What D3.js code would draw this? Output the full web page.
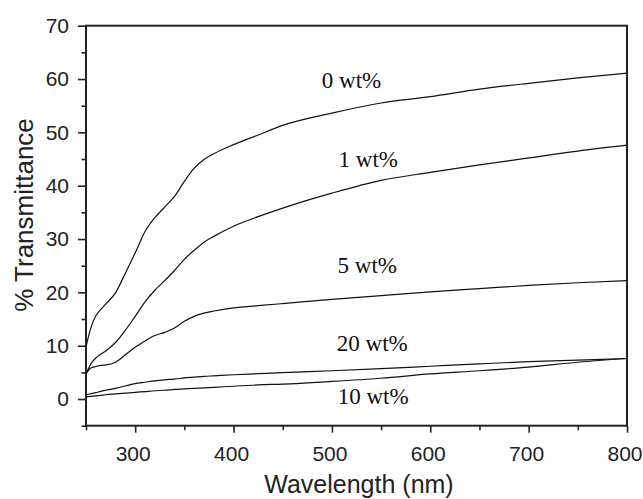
<!DOCTYPE html>
<html>
<head>
<meta charset="utf-8">
<script src="https://cdn.jsdelivr.net/npm/d3@7"></script>
<style>
  body { margin: 0; background: #fff; }
  svg { display: block; }
</style>
</head>
<body>
<svg id="chart" width="643" height="499"></svg>
<script>
// wavelength grid (nm) shared by all curves
const wavelength = [250, 255, 260, 265, 270, 280, 290, 300, 310, 320, 330, 340, 350, 360, 370, 380, 400, 425, 450, 500, 550, 600, 650, 700, 750, 800];

// % transmittance
const t0  = [9.8, 13.4, 15.6, 16.8, 17.8, 19.9, 23.6, 27.4, 31.4, 34.0, 36.0, 38.0, 40.8, 43.3, 44.9, 46.0, 47.7, 49.5, 51.3, 53.6, 55.5, 56.7, 58.1, 59.2, 60.2, 61.1];
const t1  = [4.7, 6.6, 7.7, 8.4, 9.0, 10.6, 12.9, 15.5, 18.2, 20.4, 22.2, 24.1, 26.2, 27.9, 29.4, 30.5, 32.4, 34.2, 35.8, 38.6, 41.0, 42.5, 43.9, 45.2, 46.5, 47.6];
const t5  = [4.7, 5.8, 6.1, 6.3, 6.4, 6.9, 8.3, 9.7, 10.9, 11.9, 12.5, 13.3, 14.6, 15.5, 16.1, 16.5, 17.1, 17.5, 17.9, 18.7, 19.4, 20.1, 20.7, 21.3, 21.8, 22.2];
const t20 = [0.8, 1.0, 1.2, 1.45, 1.65, 2.0, 2.45, 2.9, 3.15, 3.4, 3.6, 3.75, 3.95, 4.1, 4.25, 4.35, 4.55, 4.75, 4.95, 5.3, 5.7, 6.15, 6.6, 7.0, 7.3, 7.6];
const t10 = [0.4, 0.5, 0.6, 0.7, 0.8, 0.95, 1.1, 1.25, 1.4, 1.55, 1.65, 1.8, 1.9, 2.0, 2.1, 2.2, 2.4, 2.65, 2.8, 3.3, 3.9, 4.7, 5.3, 6.0, 6.9, 7.6];

const seriesNames = ["0 wt%", "1 wt%", "5 wt%", "20 wt%", "10 wt%"];
// where each curve label sits, in data units
const labelX = [520, 537, 536, 541, 542];
const labelY = [58.4, 43.6, 23.7, 9.05, -0.85];

const xTicksMajor = [300, 400, 500, 600, 700, 800];
const xTicksMinor = [250, 350, 450, 550, 650, 750];
const yTicksMajor = [0, 10, 20, 30, 40, 50, 60, 70];
const yTicksMinor = [-5, 5, 15, 25, 35, 45, 55, 65];

const svg = d3.select("#chart");
const plotLeft = 86, plotRight = 627, plotTop = 25.7, plotBottom = 425.7;

const x = d3.scaleLinear().domain([250, 800]).range([plotLeft, plotRight]);
const y = d3.scaleLinear().domain([-5, 70]).range([plotBottom, plotTop]);

const axisColor = "#222";

// frame
svg.append("rect")
  .attr("x", plotLeft).attr("y", plotTop)
  .attr("width", plotRight - plotLeft).attr("height", plotBottom - plotTop)
  .attr("fill", "none").attr("stroke", axisColor).attr("stroke-width", 2);

// bottom axis
const gx = svg.append("g").attr("transform", `translate(0,${plotBottom})`);
gx.call(d3.axisBottom(x).tickValues(xTicksMajor).tickSize(7).tickPadding(13).tickFormat(d3.format("d")));
gx.selectAll(".tick text").attr("dx", -2.5);
gx.append("g").call(d3.axisBottom(x).tickValues(xTicksMinor).tickSize(4.5).tickFormat(""));

// left axis
const gy = svg.append("g").attr("transform", `translate(${plotLeft},0)`);
gy.call(d3.axisLeft(y).tickValues(yTicksMajor).tickSize(8).tickPadding(9).tickFormat(d3.format("d")));
gy.append("g").call(d3.axisLeft(y).tickValues(yTicksMinor).tickSize(4.5).tickFormat(""));

svg.selectAll(".domain").remove();
svg.selectAll(".tick line").attr("stroke", axisColor).attr("stroke-width", 1.6);
svg.selectAll(".tick text")
  .attr("fill", "#222")
  .style("font-family", "'Liberation Sans', Arial, sans-serif")
  .style("font-size", "21px");

// axis titles
svg.append("text")
  .attr("x", 359).attr("y", 493)
  .attr("text-anchor", "middle")
  .style("font-family", "'Liberation Sans', Arial, sans-serif")
  .style("font-size", "25px").attr("fill", "#222")
  .text("Wavelength (nm)");

svg.append("text")
  .attr("transform", "translate(33,215) rotate(-90)")
  .attr("text-anchor", "middle")
  .style("font-family", "'Liberation Sans', Arial, sans-serif")
  .style("font-size", "26px").attr("fill", "#222")
  .text("% Transmittance");

// curves
const allSeries = [t0, t1, t5, t20, t10];
const line = d3.line()
  .x((d, i) => x(wavelength[i]))
  .y(d => y(d))
  .curve(d3.curveMonotoneX);

svg.append("g")
  .selectAll("path")
  .data(allSeries)
  .join("path")
  .attr("d", line)
  .attr("fill", "none")
  .attr("stroke", "#111")
  .attr("stroke-width", 1.2);

// curve labels
svg.append("g")
  .selectAll("text")
  .data(seriesNames)
  .join("text")
  .attr("x", (d, i) => x(labelX[i]))
  .attr("y", (d, i) => y(labelY[i]))
  .attr("text-anchor", "middle")
  .style("font-family", "'Liberation Serif', 'Times New Roman', serif")
  .style("font-size", "23px")
  .attr("fill", "#111")
  .text(d => d);
</script>
</body>
</html>
